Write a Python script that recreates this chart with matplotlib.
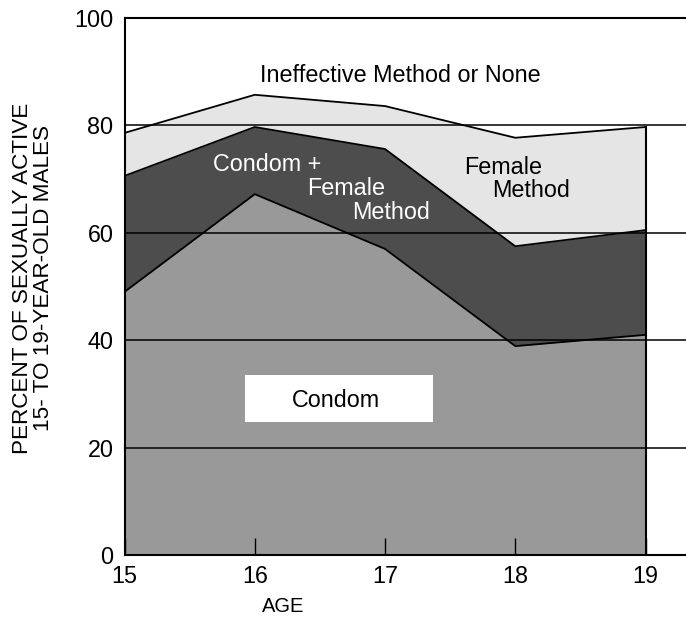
import matplotlib
matplotlib.use("Agg")
import matplotlib.pyplot as plt
from matplotlib.patches import Rectangle

plt.rcParams['font.family'] = ['Liberation Sans', 'DejaVu Sans']

# Age groups and cumulative percentages (stacked tops)
ages = [15, 16, 17, 18, 19]
condom = [49.0, 67.2, 57.0, 38.9, 41.0]
condom_female = [70.6, 79.7, 75.6, 57.5, 60.5]
female_method = [78.6, 85.7, 83.6, 77.7, 79.7]

y_ticks = [0, 20, 40, 60, 80, 100]

FS = 16.8

fig = plt.figure(figsize=(6.86, 6.18), dpi=100)
ax = fig.add_axes([124.5 / 686, 63 / 618, 1 - 124.5 / 686, (555 - 18) / 618])

# stacked areas, drawn top layer first so lower ones sit on top
ax.fill_between(ages, 0, female_method, color='#e5e5e5', lw=0, zorder=1)
ax.fill_between(ages, 0, condom_female, color='#4d4d4d', lw=0, zorder=2)
ax.fill_between(ages, 0, condom, color='#999999', lw=0, zorder=3)

# horizontal reference lines over the fills
for yv in y_ticks[1:-1]:
    ax.axhline(yv, color='black', lw=1.1, zorder=4)

# outlines of each band
ax.plot(ages, female_method, color='black', lw=1.3, zorder=5)
ax.plot(ages, condom_female, color='black', lw=1.3, zorder=5)
ax.plot(ages, condom, color='black', lw=1.3, zorder=5)
ax.plot([ages[-1], ages[-1]], [0, female_method[-1]], color='black', lw=1.5, zorder=5)

ax.set_xlim(15, 15 + (686 - 124.5) / 130.25)
ax.set_ylim(0, 100)
ax.set_xticks(ages)
ax.set_yticks(y_ticks)
ax.tick_params(axis='x', direction='in', length=12, width=1, labelsize=FS, pad=7)
ax.tick_params(axis='y', length=0, labelsize=FS, pad=8)
ax.xaxis.set_zorder(8)  # keep the inward ticks visible above the fills

ax.spines['right'].set_visible(False)
for s in ['left', 'bottom', 'top']:
    ax.spines[s].set_linewidth(1.5)
    ax.spines[s].set_zorder(6)

fig.text(33 / 686, 1 - 278 / 618, 'PERCENT OF SEXUALLY ACTIVE\n15- TO 19-YEAR-OLD MALES',
         fontsize=16.2, rotation=90, ha='center', va='center', linespacing=0.95)
fig.text(283 / 686, 1 - 606 / 618, 'AGE', fontsize=14.5, ha='center', va='center')

# band labels
ax.text(17.115, 88.1, 'Ineffective Method or None', fontsize=FS, ha='center', va='baseline', zorder=7)
ax.text(15.68, 71.5, 'Condom +', fontsize=FS, color='white', ha='left', va='baseline', zorder=7)
ax.text(16.40, 67.0, 'Female', fontsize=FS, color='white', ha='left', va='baseline', zorder=7)
ax.text(16.75, 62.6, 'Method', fontsize=FS, color='white', ha='left', va='baseline', zorder=7)
ax.text(17.61, 70.9, 'Female', fontsize=FS, ha='left', va='baseline', zorder=7)
ax.text(17.82, 66.7, 'Method', fontsize=FS, ha='left', va='baseline', zorder=7)

# white box behind the Condom label
ax.add_patch(Rectangle((15.925, 24.8), 1.445, 8.7, facecolor='white', edgecolor='none', zorder=6))
ax.text(16.625, 27.6, 'Condom', fontsize=FS, ha='center', va='baseline', zorder=7)

fig.savefig('out.png', dpi=100)
